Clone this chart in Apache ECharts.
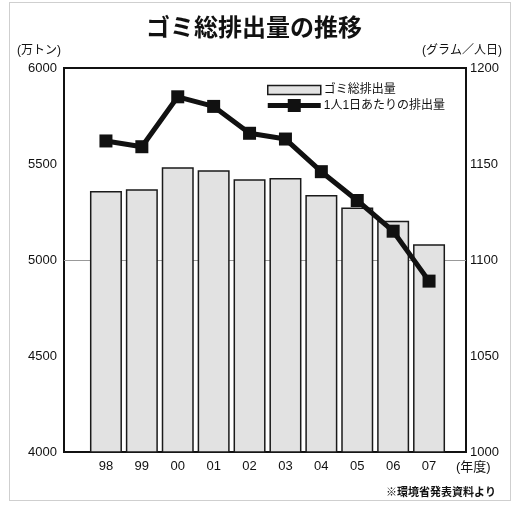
<!DOCTYPE html>
<html>
<head>
<meta charset="utf-8">
<script src="https://cdn.jsdelivr.net/npm/echarts@6/dist/echarts.min.js"></script>
<style>
  html, body { margin: 0; padding: 0; background: #fff; }
  #frame { position: absolute; left: 9px; top: 2px; width: 500px; height: 497px; border: 1px solid #cfcfcf; }
  #chart { position: absolute; left: 0; top: 0; width: 515px; height: 506px; }
</style>
</head>
<body>
<div id="frame"></div>
<div id="chart"></div>
<script>
const years = ['98', '99', '00', '01', '02', '03', '04', '05', '06', '07']
const totalWaste = [5360, 5368, 5483, 5468, 5420, 5427, 5338, 5273, 5204, 5082]
const perPerson = [1162, 1159, 1185, 1180, 1166, 1163, 1146, 1131, 1115, 1089]

const font = 'Liberation Sans, Noto Sans CJK JP, sans-serif'
const chart = echarts.init(document.getElementById('chart'))

const plain = v => String(v)

chart.setOption({
  animation: false,
  textStyle: { fontFamily: font, color: '#111' },
  title: [
    { text: 'ゴミ総排出量の推移', left: 141, top: 12, textStyle: { fontSize: 24, fontWeight: 'bold', color: '#111', fontFamily: font } },
    { text: '(万トン)', left: 12, top: 40, textStyle: { fontSize: 12, fontWeight: 'normal', color: '#111', fontFamily: font } },
    { text: '(グラム／人日)', right: 8, top: 40, textStyle: { fontSize: 12, fontWeight: 'normal', color: '#111', fontFamily: font } },
    { text: '(年度)', left: 451, top: 456, textStyle: { fontSize: 13, fontWeight: 'normal', color: '#111', fontFamily: font } },
    { text: '※環境省発表資料より', right: 14, top: 482, textStyle: { fontSize: 11, fontWeight: 'bold', color: '#111', fontFamily: font } }
  ],
  legend: {
    orient: 'vertical', left: 262, top: 79, itemWidth: 53, itemHeight: 13, itemGap: 3,
    textStyle: { fontSize: 12, color: '#111', fontFamily: font, padding: [0, 0, 0, -2] },
    data: [
      { name: 'ゴミ総排出量', icon: 'path://M0,2H53V11H0Z', itemStyle: { color: '#e2e2e2', borderColor: '#1a1a1a', borderWidth: 1.5 } },
      { name: '1人1日あたりの排出量', icon: 'path://M0,4H20V0H33V4H53V9H33V13H20V9H0Z', itemStyle: { color: '#111', borderWidth: 0 } }
    ]
  },
  grid: [
    { left: 64, right: 49, top: 68, bottom: 54, show: true, borderColor: '#111', borderWidth: 2, backgroundColor: 'transparent' },
    { left: 88, right: 68, top: 68, bottom: 54 }
  ],
  xAxis: [
    { type: 'value', gridIndex: 0, min: 0, max: 1, show: false },
    {
      type: 'category', gridIndex: 1, data: years,
      axisLine: { show: false }, axisTick: { show: false },
      axisLabel: { margin: 8, fontSize: 13, color: '#111' }
    }
  ],
  yAxis: [
    {
      type: 'value', gridIndex: 0, position: 'left', min: 4000, max: 6000, interval: 500,
      axisLine: { show: false }, axisTick: { show: false },
      axisLabel: { margin: 7, fontSize: 13, color: '#111', formatter: plain },
      splitLine: { show: true, lineStyle: { color: ['transparent', 'transparent', '#999', 'transparent', 'transparent'], width: 1 } }
    },
    {
      type: 'value', gridIndex: 0, position: 'right', min: 1000, max: 1200, interval: 50,
      axisLine: { show: false }, axisTick: { show: false },
      axisLabel: { margin: 4, fontSize: 13, color: '#111', formatter: plain },
      splitLine: { show: false }
    },
    { type: 'value', gridIndex: 1, min: 4000, max: 6000, show: false, splitLine: { show: false } },
    { type: 'value', gridIndex: 1, min: 1000, max: 1200, show: false, splitLine: { show: false } }
  ],
  series: [
    {
      name: 'ゴミ総排出量', type: 'bar', xAxisIndex: 1, yAxisIndex: 2,
      data: totalWaste, barWidth: 32,
      itemStyle: { color: '#e2e2e2', borderColor: '#1a1a1a', borderWidth: 1.5 }
    },
    {
      name: '1人1日あたりの排出量', type: 'line', xAxisIndex: 1, yAxisIndex: 3,
      data: perPerson, symbol: 'rect', symbolSize: 13,
      lineStyle: { color: '#111', width: 5 },
      itemStyle: { color: '#111' },
      z: 5
    }
  ]
})
</script>
</body>
</html>
